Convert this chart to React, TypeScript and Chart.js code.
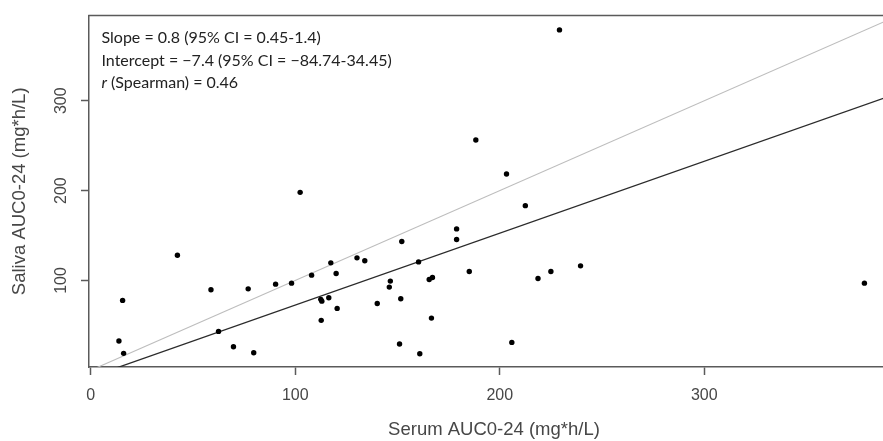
import React, { useEffect, useRef } from "react";
import { Chart, registerables } from "chart.js";

Chart.register(...registerables);

// Serum AUC0-24 (x) and Saliva AUC0-24 (y), mg*h/L
const SERUM_AUC = [
  15.6, 13.8, 16.1, 42.4, 58.8, 62.5, 69.8, 77.0, 79.7, 90.4,
  98.2, 102.4, 108.0, 112.5, 113.0, 112.7, 116.4, 117.4, 120.0, 120.5,
  130.2, 134.0, 140.1, 146.0, 146.5, 151.6, 151.0, 152.1, 160.3, 160.9,
  165.5, 167.1, 166.6, 178.9, 178.9, 185.1, 188.3, 203.3, 205.9, 212.5,
  218.7, 225.0, 229.2, 239.5, 378.3,
];
const SALIVA_AUC = [
  77.8, 32.6, 18.9, 128.0, 89.6, 43.3, 26.3, 90.7, 19.6, 95.9,
  97.0, 198.1, 105.9, 79.0, 77.0, 55.6, 80.7, 119.6, 107.8, 68.9,
  125.2, 121.9, 74.4, 92.6, 99.3, 79.6, 29.3, 143.3, 120.7, 18.5,
  101.1, 103.3, 58.1, 157.4, 145.6, 110.0, 256.3, 218.5, 31.1, 183.3,
  102.2, 110.0, 378.9, 116.3, 97.0,
];

const X_TICKS = [0, 100, 200, 300];
const Y_TICKS = [100, 200, 300];
const X_RANGE = [-0.83, 395.2];
const Y_RANGE = [3.7, 394.8];

const SLOPE = 0.8;
const INTERCEPT = -7.4;

const ANNOTATION_LINES = [
  "Slope = 0.8 (95% CI = 0.45-1.4)",
  "Intercept = \u22127.4 (95% CI = \u221284.74-34.45)",
  " (Spearman) = 0.46",
];

const X_TITLE = "Serum AUC0-24 (mg*h/L)";
const Y_TITLE = "Saliva AUC0-24 (mg*h/L)";

const AXIS_COLOR = "#5a5a5a";
const TEXT_COLOR = "#474747";
const AXIS_FONT = "'Liberation Sans', Arial, sans-serif";
const NOTE_FONT = "Lato, 'Open Sans', sans-serif";
const NOTE_SIZE = 16;

const framePlugin = {
  id: "frameAndNotes",
  afterDatasetsDraw(chart: any) {
    const { ctx, chartArea } = chart;
    ctx.save();
    // top border of plot box
    ctx.strokeStyle = AXIS_COLOR;
    ctx.lineWidth = 1.5;
    ctx.beginPath();
    ctx.moveTo(chartArea.left - 0.75, chartArea.top);
    ctx.lineTo(chartArea.right, chartArea.top);
    ctx.stroke();

    // annotation
    ctx.fillStyle = "#222";
    ctx.textBaseline = "alphabetic";
    ctx.textAlign = "left";
    const x0 = chartArea.left + 12.5;
    const baselines = [43, 65.5, 88];
    ctx.font = `${NOTE_SIZE}px ${NOTE_FONT}`;
    ctx.fillText(ANNOTATION_LINES[0], x0, baselines[0]);
    ctx.fillText(ANNOTATION_LINES[1], x0, baselines[1]);
    ctx.font = `italic ${NOTE_SIZE}px ${NOTE_FONT}`;
    ctx.fillText("r", x0, baselines[2]);
    const w = ctx.measureText("r").width;
    ctx.font = `${NOTE_SIZE}px ${NOTE_FONT}`;
    ctx.fillText(ANNOTATION_LINES[2], x0 + w, baselines[2]);
    ctx.restore();
  },
};

export default function App() {
  const canvasRef = useRef<HTMLCanvasElement | null>(null);

  useEffect(() => {
    if (!canvasRef.current) return;
    const points = SERUM_AUC.map((x, i) => ({ x, y: SALIVA_AUC[i] }));
    const identity = [
      { x: X_RANGE[0], y: X_RANGE[0] },
      { x: X_RANGE[1], y: X_RANGE[1] },
    ];
    const regression = [
      { x: X_RANGE[0], y: SLOPE * X_RANGE[0] + INTERCEPT },
      { x: X_RANGE[1], y: SLOPE * X_RANGE[1] + INTERCEPT },
    ];

    const chart = new Chart(canvasRef.current, {
      type: "scatter",
      data: {
        datasets: [
          {
            data: points,
            pointRadius: 2.7,
            pointBackgroundColor: "#000",
            pointBorderWidth: 0,
            showLine: false,
          },
          {
            data: regression,
            showLine: true,
            borderColor: "#2b2b2b",
            borderWidth: 1.3,
            pointRadius: 0,
          },
          {
            data: identity,
            showLine: true,
            borderColor: "#bdbdbd",
            borderWidth: 1.1,
            pointRadius: 0,
          },
        ],
      },
      options: {
        animation: false,
        responsive: false,
        devicePixelRatio: 1,
        layout: { padding: { top: 15, left: 0, right: 0, bottom: 0 } },
        plugins: {
          legend: { display: false },
          tooltip: { enabled: false },
        },
        scales: {
          x: {
            type: "linear",
            position: "bottom",
            min: X_RANGE[0],
            max: X_RANGE[1],
            afterBuildTicks: (scale: any) => {
              scale.ticks = X_TICKS.map((v) => ({ value: v }));
            },
            afterFit: (scale: any) => {
              scale.height = 74;
            },
            grid: {
              drawOnChartArea: false,
              drawTicks: true,
              tickLength: 8,
              tickColor: AXIS_COLOR,
              tickWidth: 1.5,
            },
            border: { display: true, color: AXIS_COLOR, width: 1.5 },
            ticks: {
              color: TEXT_COLOR,
              font: { family: AXIS_FONT, size: 16 },
              padding: 10.5,
              maxRotation: 0,
              callback: (v: any) => String(v),
            },
            title: {
              display: true,
              text: X_TITLE,
              color: TEXT_COLOR,
              font: { family: AXIS_FONT, size: 18.5 },
              padding: { top: 0, bottom: 0 },
            },
          },
          y: {
            type: "linear",
            position: "left",
            min: Y_RANGE[0],
            max: Y_RANGE[1],
            afterBuildTicks: (scale: any) => {
              scale.ticks = Y_TICKS.map((v) => ({ value: v }));
            },
            afterFit: (scale: any) => {
              scale.width = 89;
            },
            grid: {
              drawOnChartArea: false,
              drawTicks: true,
              tickLength: 8,
              tickColor: AXIS_COLOR,
              tickWidth: 1.5,
            },
            border: { display: true, color: AXIS_COLOR, width: 1.5 },
            ticks: {
              color: TEXT_COLOR,
              font: { family: AXIS_FONT, size: 16 },
              padding: 6,
              minRotation: 90,
              maxRotation: 90,
              crossAlign: "center",
              callback: (v: any) => String(v),
            },
            title: {
              display: true,
              text: Y_TITLE,
              color: TEXT_COLOR,
              font: { family: AXIS_FONT, size: 18.5 },
              padding: { top: 8.5, bottom: 0 },
            },
          },
        },
      },
      plugins: [framePlugin],
    } as any);

    return () => {
      chart.destroy();
    };
  }, []);

  return (
    <div
      style={{
        position: "fixed",
        left: 0,
        top: 0,
        width: 883,
        height: 441,
        overflow: "hidden",
        background: "#fff",
      }}
    >
      <canvas
        ref={canvasRef}
        width={903}
        height={441}
        style={{ width: 903, height: 441, display: "block" }}
      />
    </div>
  );
}
